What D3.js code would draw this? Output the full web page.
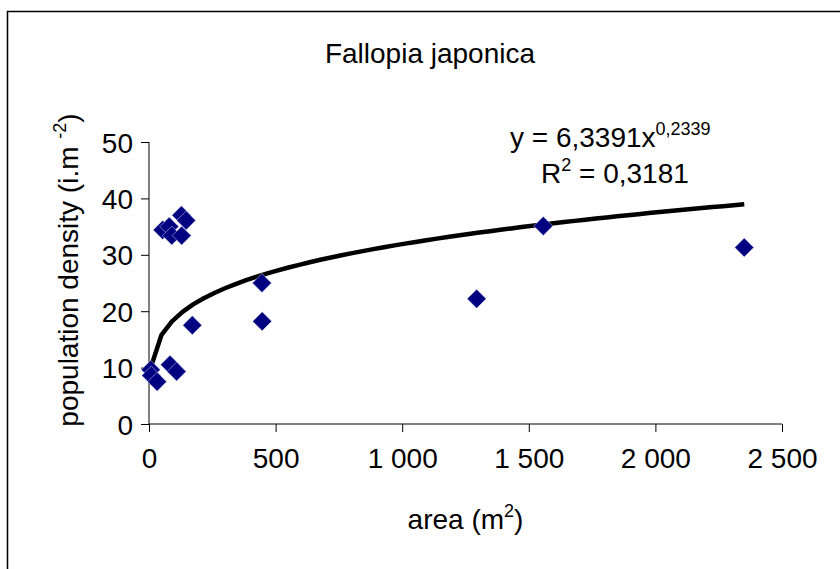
<!DOCTYPE html>
<html>
<head>
<meta charset="utf-8">
<script src="https://cdn.jsdelivr.net/npm/d3@7"></script>
<style>
  body { margin: 0; background: #fff; }
  text { font-family: "Liberation Sans", Arial, sans-serif; fill: #000; }
</style>
</head>
<body>
<script>
// Data
const areas     = [7, 9, 32, 83, 109, 171, 54, 80, 90, 129, 128, 147, 446, 447, 1294, 1557, 2351];
const densities = [9.6, 8.6, 7.5, 10.5, 9.3, 17.5, 34.4, 35.0, 33.4, 33.4, 37.0, 36.1, 25.0, 18.2, 22.2, 35.1, 31.3];
const xTicks = [0, 500, 1000, 1500, 2000, 2500];
const yTicks = [0, 10, 20, 30, 40, 50];
// power trendline y = a * x^b
const fitA = 6.3391;
const fitB = 0.2339;

const W = 840, H = 569;
const margin = { top: 142, right: 58, bottom: 145, left: 149 };
const width = W - margin.left - margin.right;
const height = H - margin.top - margin.bottom;

const svg = d3.select("body").append("svg")
    .attr("width", W)
    .attr("height", H);

// outer chart frame (runs off the right and bottom edge)
svg.append("rect")
    .attr("x", 7.5).attr("y", 11.5)
    .attr("width", W).attr("height", H)
    .attr("fill", "none")
    .attr("stroke", "#000")
    .attr("stroke-width", 1.5);

const chart = svg.append("g")
    .attr("transform", `translate(${margin.left},${margin.top})`);

const x = d3.scaleLinear().domain([0, 2500]).range([0, width]);
const y = d3.scaleLinear().domain([0, 50]).range([height, 0]);

const fmt = d => d3.format(",")(d).replace(/,/g, " ");

// y axis
chart.append("g")
    .call(d3.axisLeft(y).tickValues(yTicks).tickSize(8).tickPadding(8).tickFormat(d => d))
    .call(g => g.selectAll("text").style("font-size", "28px").attr("dy", "0.36em"))
    .call(g => g.selectAll("line, path").attr("stroke", "#000"))
    .call(g => g.select(".domain").attr("d", `M0,${height + 0.5}V0`));

// x axis
chart.append("g")
    .attr("transform", `translate(0,${height})`)
    .call(d3.axisBottom(x).tickValues(xTicks).tickSize(8).tickPadding(16).tickFormat(fmt))
    .call(g => g.selectAll("text").style("font-size", "28px"))
    .call(g => g.selectAll("line, path").attr("stroke", "#000"))
    .call(g => g.select(".domain").attr("d", `M0,0H${width}`));

// trendline, sampled from the fitted equation in even steps over the data range
const xMin = d3.min(areas), xMax = d3.max(areas);
const steps = 56;
const fitX = d3.range(0, steps + 1).map(i => xMin + (xMax - xMin) * i / steps);
chart.append("path")
    .datum(fitX)
    .attr("d", d3.line().x(d => x(d)).y(d => y(fitA * Math.pow(d, fitB))))
    .attr("fill", "none")
    .attr("stroke", "#000")
    .attr("stroke-width", 4.5)
    .attr("stroke-linejoin", "round");

// diamond markers
const diamond = d3.symbol().type(d3.symbolSquare).size(180);
chart.selectAll(".dot")
    .data(areas.map((a, i) => ({ a, d: densities[i] })))
    .join("path")
    .attr("class", "dot")
    .attr("d", diamond)
    .attr("transform", d => `translate(${x(d.a)},${y(d.d)}) rotate(45)`)
    .attr("fill", "#000080")
    .attr("stroke", "#d8d8f0")
    .attr("stroke-width", 0.5);

// title
svg.append("text")
    .attr("x", 430).attr("y", 63)
    .attr("text-anchor", "middle")
    .style("font-size", "28px")
    .text("Fallopia japonica");

// equation
const eq = svg.append("text")
    .attr("x", 510).attr("y", 147)
    .style("font-size", "28px");
eq.append("tspan").text("y = 6,3391x");
eq.append("tspan").attr("dy", -12).style("font-size", "18px").text("0,2339");

const r2 = svg.append("text")
    .attr("x", 541).attr("y", 183)
    .style("font-size", "28px");
r2.append("tspan").text("R");
r2.append("tspan").attr("dy", -12).style("font-size", "18px").text("2");
r2.append("tspan").attr("dy", 12).text(" = 0,3181");

// x axis title
const xt = svg.append("text")
    .attr("x", margin.left + width / 2).attr("y", 529)
    .attr("text-anchor", "middle")
    .style("font-size", "28px");
xt.append("tspan").text("area (m");
xt.append("tspan").attr("dy", -12).style("font-size", "18px").text("2");
xt.append("tspan").attr("dy", 12).text(")");

// y axis title
const yt = svg.append("text")
    .attr("transform", `translate(78,270) rotate(-90)`)
    .attr("text-anchor", "middle")
    .style("font-size", "28px");
yt.append("tspan").text("population density (i.m ");
yt.append("tspan").attr("dy", -12).style("font-size", "18px").text("-2");
yt.append("tspan").attr("dy", 12).text(")");
</script>
</body>
</html>
